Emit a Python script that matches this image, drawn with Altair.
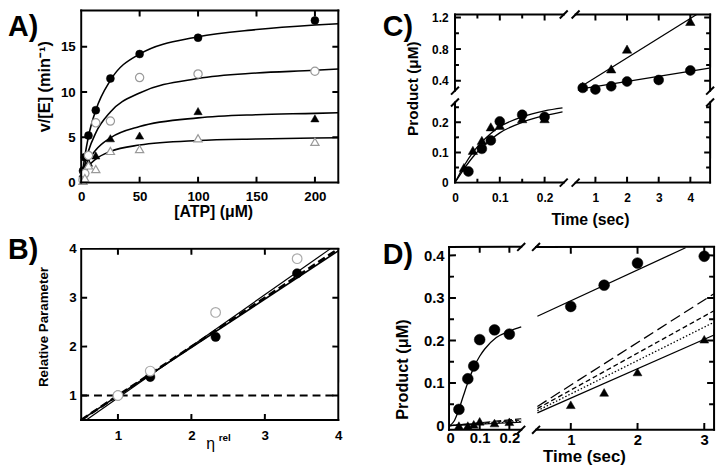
import altair as alt
import pandas as pd

# ---------------- Panel A : v/[E] vs [ATP] ----------------
atp = [1.56, 3.125, 6.25, 12.5, 25, 50, 100, 200]
a_filled_circles = [1.3, 2.8, 5.2, 8.0, 11.5, 14.2, 16.0, 17.9]
a_open_circles = [0.3, 1.0, 3.0, 6.6, 6.8, 11.6, 12.0, 12.3]
a_filled_triangles = [1.0, 1.4, 2.2, 3.0, 4.9, 5.2, 7.9, 7.1]
a_open_triangles = [0.2, 0.5, 1.9, 1.5, 3.5, 3.7, 4.9, 4.5]
a_fit_x = [0, 3, 6.25, 12.5, 25, 50, 100, 150, 200, 220]
a_fit_1 = [0, 2.8, 5.1, 8.0, 11.3, 14.2, 16.1, 16.9, 17.4, 17.55]
a_fit_2 = [0, 1.9, 3.5, 5.5, 7.8, 9.9, 11.5, 12.1, 12.4, 12.55]
a_fit_3 = [0, 1.3, 2.4, 3.6, 4.95, 6.2, 7.15, 7.5, 7.65, 7.72]
a_fit_4 = [0, 1.0, 1.8, 2.6, 3.45, 4.15, 4.65, 4.82, 4.92, 4.95]

# ---------------- Panel B : relative parameter vs eta ----------------
eta = [1.0, 1.44, 2.33, 3.44]
b_filled = [1.0, 1.38, 2.2, 3.5]
b_open = [1.0, 1.5, 2.7, 3.8]
b_fit_open_x = [0.57, 3.89]
b_fit_open_y = [0.5, 4.0]
b_fit_filled_x = [0.5, 4.0]
b_fit_filled_y = [0.5, 3.96]
b_unity_x = [0.5, 4.0]
b_unity_y = [0.5, 4.0]
b_ref_x = [0.5, 4.0]
b_ref_y = [1.0, 1.0]

# ---------------- Panel C : product vs time (broken axes) ----------------
c_t_circ = [0.03, 0.06, 0.08, 0.1, 0.15, 0.2]
c_v_circ = [0.037, 0.112, 0.14, 0.203, 0.225, 0.218]
c_t_tri = [0.02, 0.04, 0.06, 0.08, 0.1, 0.15, 0.2]
c_v_tri = [0.05, 0.107, 0.14, 0.185, 0.19, 0.212, 0.212]
c_fit_t = [0, 0.02, 0.04, 0.06, 0.08, 0.1, 0.15, 0.2, 0.24]
c_fit_tri = [0, 0.055, 0.1, 0.135, 0.163, 0.185, 0.218, 0.238, 0.248]
c_fit_circ = [0, 0.045, 0.085, 0.117, 0.143, 0.165, 0.2, 0.222, 0.235]
c_slow_t_circ = [0.6, 1.0, 1.5, 2.0, 3.0, 4.0]
c_slow_v_circ = [0.31, 0.29, 0.33, 0.39, 0.41, 0.53]
c_slow_t_tri = [0.6, 1.5, 2.0, 4.0]
c_slow_v_tri = [0.33, 0.55, 0.80, 1.15]
c_line_circ_t = [0.6, 4.6]
c_line_circ_v = [0.30, 0.56]
c_line_tri_t = [0.6, 4.2]
c_line_tri_v = [0.34, 1.2375]

# ---------------- Panel D : product vs time (broken x axis) ----------------
d_t_circ = [0.03, 0.06, 0.08, 0.1, 0.15, 0.2]
d_v_circ = [0.038, 0.11, 0.14, 0.202, 0.225, 0.215]
d_t_tri = [0.03, 0.06, 0.08, 0.1, 0.15, 0.2]
d_v_tri = [0.0, 0.0, 0.003, 0.01, 0.006, 0.009]
d_fit_t = [0, 0.015, 0.028, 0.045, 0.061, 0.081, 0.1, 0.117, 0.156, 0.2, 0.24]
d_fit_v = [0, 0.012, 0.034, 0.07, 0.103, 0.138, 0.163, 0.18, 0.207, 0.222, 0.232]
d_zero_t = [0, 0.24]
d_zero_solid = [0, 0.008]
d_zero_dotted = [0, 0.010]
d_zero_short = [0, 0.013]
d_zero_long = [0, 0.016]
d_slow_t = [1.0, 1.5, 2.0, 3.0]
d_slow_circ = [0.28, 0.33, 0.382, 0.398]
d_slow_tri = [0.049, 0.078, 0.126, 0.203]
d_line_circ_t = [0.5, 2.72]
d_line_circ_v = [0.257, 0.418]
d_line_t = [0.5, 3.147]
d_line_solid = [0.030, 0.213]
d_line_dotted = [0.035, 0.243]
d_line_short = [0.040, 0.270]
d_line_long = [0.045, 0.310]

# ---------------- layout (pixels inside the drawing area) ----------------
W, H = 719, 460
FONT = "Liberation Sans"

A_X, A_Y = (74, 334), (174, 0)
B_X, B_Y = (74, 334), (414, 241)
CL_X, CR_X = (452, 562), (574, 710)
CT_Y, CB_Y = (81, 4), (174, 93)
DL_X, DR_X = (446, 519), (534, 714)
D_Y = (424, 239)

A_XD, A_YD = [0, 220], [0, 19]
B_XD, B_YD = [0.5, 4], [0.5, 4]
CL_XD, CR_XD = [0, 0.2428], [0.375, 4.625]
CT_YD, CB_YD = [0.275, 1.2375], [0, 0.2656]
DL_XD, DR_XD = [-0.0033, 0.24], [0.48, 3.147]
D_YD = [-0.01, 0.42]


def sc(dom, rng):
    return alt.Scale(domain=dom, range=list(rng), nice=False, zero=False)


def enc(xs, ys):
    return dict(x=alt.X("x:Q", scale=xs, axis=None),
                y=alt.Y("y:Q", scale=ys, axis=None))


def pts(xv, yv, xs, ys, shape, size, filled=True, stroke="#9a9a9a"):
    df = pd.DataFrame({"x": xv, "y": yv})
    if filled:
        m = alt.Chart(df).mark_point(shape=shape, size=size, filled=True, fill="black",
                                     stroke="black", strokeWidth=0.5, opacity=1)
    else:
        m = alt.Chart(df).mark_point(shape=shape, size=size, filled=True, fill="white",
                                     stroke=stroke, strokeWidth=1.2, opacity=1)
    return m.encode(**enc(xs, ys))


def line(xv, yv, xs, ys, width=1.5, dash=None, interp="monotone"):
    df = pd.DataFrame({"x": xv, "y": yv})
    kw = dict(color="black", strokeWidth=width, interpolate=interp)
    if dash:
        kw["strokeDash"] = dash
    return alt.Chart(df).mark_line(**kw).encode(**enc(xs, ys))


def x_host(xs, dom, axis):
    return alt.Chart(pd.DataFrame({"v": dom})).mark_point(opacity=0, size=1).encode(
        x=alt.X("v:Q", scale=xs, axis=axis))


def y_host(ys, dom, axis):
    return alt.Chart(pd.DataFrame({"v": dom})).mark_point(opacity=0, size=1).encode(
        y=alt.Y("v:Q", scale=ys, axis=axis))


def label_axis(side, pos, values, fs, pad):
    if side == "bottom":
        orient, off = "bottom", pos - H
    else:
        orient, off = "left", -pos
    return alt.Axis(orient=orient, offset=off, values=values, ticks=False, tickSize=0,
                    domain=False, grid=False, title=None, labelFont=FONT, labelFontSize=fs,
                    labelFontWeight="bold", labelColor="black", labelPadding=pad,
                    labelFlush=False, labelOverlap=False, format=".2~f")


def segs(rows, xs, ys):
    """Frame edges and inward ticks: straight dashed-pattern strokes through the scales."""
    df = pd.DataFrame(rows, columns=["id", "o", "x", "y"])
    return alt.Chart(df).mark_line(color="black", strokeWidth=2, strokeDash=[400, 0.01]).encode(
        **enc(xs, ys), detail="id:N", order="o:Q")


frame_layers = []


def frame(xs, ys, xdom, ydom, xr, yr, sides, labels):
    out = []
    ux = (xdom[1] - xdom[0]) / (xr[1] - xr[0])   # data units per pixel, x
    uy = (ydom[1] - ydom[0]) / (yr[0] - yr[1])   # data units per pixel, y
    rows = []
    k = 0
    for side, (maj, mnr, lM, lm) in sides.items():
        if side in ("bottom", "top"):
            y0 = ydom[0] if side == "bottom" else ydom[1]
            sgn = 1 if side == "bottom" else -1
            rows += [(k, 0, xdom[0] - ux, y0), (k, 1, xdom[1] + ux, y0 + 0.05 * uy)]
            k += 1
            for vals, L in ((maj, lM), (mnr, lm)):
                for v in vals:
                    rows += [(k, 0, v, y0), (k, 1, v + 0.05 * ux, y0 + sgn * L * uy)]
                    k += 1
        else:
            x0 = xdom[0] if side == "left" else xdom[1]
            sgn = 1 if side == "left" else -1
            rows += [(k, 0, x0, ydom[0] - uy), (k, 1, x0 + 0.05 * ux, ydom[1] + uy)]
            k += 1
            for vals, L in ((maj, lM), (mnr, lm)):
                for v in vals:
                    rows += [(k, 0, x0, v), (k, 1, x0 + sgn * L * ux, v + 0.05 * uy)]
                    k += 1
    frame_layers.append(segs(rows, xs, ys))
    for side, (vals, fs, pad) in labels.items():
        if side == "bottom":
            out.append(x_host(xs, xdom, label_axis("bottom", yr[0], vals, fs, pad)))
        else:
            out.append(y_host(ys, ydom, label_axis("left", xr[0], vals, fs, pad)))
    return out


def text(s, x, y, fs, angle=0, weight="bold", align="left", font=FONT):
    return alt.Chart(pd.DataFrame({"t": [s]})).mark_text(
        fontSize=fs, font=font, fontWeight=weight, align=align, baseline="alphabetic",
        angle=angle, color="black").encode(text="t:N", x=alt.value(x), y=alt.value(y))


def brk(cx, cy, d=4):
    return alt.Chart(pd.DataFrame({"a": [0]})).mark_rule(color="black", strokeWidth=2).encode(
        x=alt.value(cx - d), x2=alt.value(cx + d), y=alt.value(cy + d), y2=alt.value(cy - d))


layers = []

# ---------- Panel A ----------
ax, ay = sc(A_XD, A_X), sc(A_YD, A_Y)
for fit in (a_fit_1, a_fit_2, a_fit_3, a_fit_4):
    layers.append(line(a_fit_x, fit, ax, ay, 1.6))
layers.append(pts(atp, a_filled_circles, ax, ay, "circle", 65))
layers.append(pts(atp, a_filled_triangles, ax, ay, "triangle-up", 70))
layers.append(pts(atp, a_open_circles, ax, ay, "circle", 70, filled=False))
layers.append(pts(atp, a_open_triangles, ax, ay, "triangle-up", 70, filled=False))
layers += frame(ax, ay, A_XD, A_YD, A_X, A_Y,
                {"bottom": ([50, 100, 150, 200], [], 6, 0),
                 "top": ([50, 100, 150, 200], [], 6, 0),
                 "left": ([5, 10, 15], [], 6, 0),
                 "right": ([5, 10, 15], [], 6, 0)},
                {"bottom": ([0, 50, 100, 150, 200], 13.5, 7),
                 "left": ([0, 5, 10, 15], 13.5, 6)})

# ---------- Panel B ----------
bx, by = sc(B_XD, B_X), sc(B_YD, B_Y)
layers.append(line(b_ref_x, b_ref_y, bx, by, 2, dash=[8, 5], interp="linear"))
layers.append(line(b_unity_x, b_unity_y, bx, by, 2.6, dash=[8, 4], interp="linear"))
layers.append(line(b_fit_filled_x, b_fit_filled_y, bx, by, 1.6, interp="linear"))
layers.append(line(b_fit_open_x, b_fit_open_y, bx, by, 1.2, interp="linear"))
layers.append(pts(eta, b_filled, bx, by, "circle", 90))
layers.append(pts(eta, b_open, bx, by, "circle", 95, filled=False, stroke="#aaaaaa"))
layers += frame(bx, by, B_XD, B_YD, B_X, B_Y,
                {"bottom": ([1, 2, 3], [], 6, 0), "top": ([1, 2, 3], [], 6, 0),
                 "left": ([1, 2, 3], [], 6, 0), "right": ([1, 2, 3], [], 6, 0)},
                {"bottom": ([1, 2, 3, 4], 13.5, 9), "left": ([1, 2, 3, 4], 13.5, 5)})

# ---------- Panel C ----------
clx, crx = sc(CL_XD, CL_X), sc(CR_XD, CR_X)
cty, cby = sc(CT_YD, CT_Y), sc(CB_YD, CB_Y)
layers.append(line(c_fit_t, c_fit_tri, clx, cby, 1.3))
layers.append(line(c_fit_t, c_fit_circ, clx, cby, 1.3))
layers.append(pts(c_t_tri, c_v_tri, clx, cby, "triangle-up", 90))
layers.append(pts(c_t_circ, c_v_circ, clx, cby, "circle", 100))
layers.append(line(c_line_tri_t, c_line_tri_v, crx, cty, 1.3, interp="linear"))
layers.append(line(c_line_circ_t, c_line_circ_v, crx, cty, 1.3, interp="linear"))
layers.append(pts(c_slow_t_tri, c_slow_v_tri, crx, cty, "triangle-up", 90))
layers.append(pts(c_slow_t_circ, c_slow_v_circ, crx, cty, "circle", 100))
layers += frame(clx, cty, CL_XD, CT_YD, CL_X, CT_Y,
                {"top": ([0.1, 0.2], [0.05, 0.15], 6, 4),
                 "left": ([0.4, 0.8, 1.2], [0.6, 1.0], 6, 4)},
                {"left": ([0.4, 0.8, 1.2], 12, 7)})
layers += frame(clx, cby, CL_XD, CB_YD, CL_X, CB_Y,
                {"bottom": ([0.1, 0.2], [0.05, 0.15], 6, 4),
                 "left": ([0.1, 0.2], [0.05, 0.15, 0.25], 6, 4)},
                {"bottom": ([0, 0.1, 0.2], 12, 10), "left": ([0, 0.1, 0.2], 12, 7)})
layers += frame(crx, cty, CR_XD, CT_YD, CR_X, CT_Y,
                {"top": ([1, 2, 3, 4], [], 6, 0),
                 "right": ([0.4, 0.8, 1.2], [0.6, 1.0], 6, 4)}, {})
layers += frame(crx, cby, CR_XD, CB_YD, CR_X, CB_Y,
                {"bottom": ([1, 2, 3, 4], [], 6, 0),
                 "right": ([0.1, 0.2], [0.05, 0.15, 0.25], 6, 4)},
                {"bottom": ([1, 2, 3, 4], 12, 10)})
for cx, cy in [(CL_X[1], CT_Y[1]), (CR_X[0], CT_Y[1]), (CL_X[1], CB_Y[0]), (CR_X[0], CB_Y[0]),
               (CL_X[0], CT_Y[0]), (CL_X[0], CB_Y[1]), (CR_X[1], CT_Y[0]), (CR_X[1], CB_Y[1])]:
    layers.append(brk(cx, cy))

# ---------- Panel D ----------
dlx, drx, dy = sc(DL_XD, DL_X), sc(DR_XD, DR_X), sc(D_YD, D_Y)
layers.append(line(d_zero_t, d_zero_long, dlx, dy, 1.2, dash=[8, 3], interp="linear"))
layers.append(line(d_zero_t, d_zero_short, dlx, dy, 1.2, dash=[4, 2], interp="linear"))
layers.append(line(d_zero_t, d_zero_dotted, dlx, dy, 1.2, dash=[1.5, 2], interp="linear"))
layers.append(line(d_zero_t, d_zero_solid, dlx, dy, 1.2, interp="linear"))
layers.append(line(d_fit_t, d_fit_v, dlx, dy, 1.3))
layers.append(pts(d_t_tri, d_v_tri, dlx, dy, "triangle-up", 80))
layers.append(pts(d_t_circ, d_v_circ, dlx, dy, "circle", 120))
layers.append(line(d_line_circ_t, d_line_circ_v, drx, dy, 1.3, interp="linear"))
layers.append(line(d_line_t, d_line_long, drx, dy, 1.3, dash=[11, 5], interp="linear"))
layers.append(line(d_line_t, d_line_short, drx, dy, 1.3, dash=[5, 3], interp="linear"))
layers.append(line(d_line_t, d_line_dotted, drx, dy, 1.3, dash=[1.5, 2], interp="linear"))
layers.append(line(d_line_t, d_line_solid, drx, dy, 1.3, interp="linear"))
layers.append(pts(d_slow_t, d_slow_tri, drx, dy, "triangle-up", 80))
layers.append(pts(d_slow_t, d_slow_circ, drx, dy, "circle", 120))
layers += frame(dlx, dy, DL_XD, D_YD, DL_X, D_Y,
                {"bottom": ([0.1, 0.2], [], 6, 0), "top": ([0.1, 0.2], [], 6, 0),
                 "left": ([0.1, 0.2, 0.3, 0.4], [0.05, 0.15, 0.25, 0.35], 7, 5)},
                {"bottom": ([0, 0.1, 0.2], 15, 1), "left": ([0, 0.1, 0.2, 0.3, 0.4], 15, 5)})
layers += frame(drx, dy, DR_XD, D_YD, DR_X, D_Y,
                {"bottom": ([1, 2, 3], [], 7, 0), "top": ([1, 2, 3], [], 7, 0),
                 "right": ([0.1, 0.2, 0.3, 0.4], [0.05, 0.15, 0.25, 0.35], 7, 5)},
                {"bottom": ([1, 2, 3], 15, 3)})
for cx, cy in [(DL_X[1], D_Y[1]), (DR_X[0], D_Y[1]), (DL_X[1], D_Y[0]), (DR_X[0], D_Y[0])]:
    layers.append(brk(cx, cy))

# ---------- texts ----------
layers += [
    text("A)", 0, 26, 29), text("B)", 0, 251, 29), text("C)", 379, 26, 29), text("D)", 379, 256, 29),
    text("v/[E] (min⁻¹)", 42, 77, 16.5, angle=270, align="center"),
    text("[ATP] (μM)", 208, 209, 16, align="center"),
    text("Relative Parameter", 40, 320, 13.5, angle=270, align="center"),
    text("η", 205, 443, 16, weight="normal", align="center"),
    text("rel", 213, 435, 10),
    text("Product (μM)", 415, 79, 15.5, angle=270, align="center"),
    text("Time (sec)", 589, 217, 16, align="center"),
    text("Product (μM)", 404, 363, 16.5, angle=270, align="center"),
    text("Time (sec)", 583, 457, 17, align="center"),
]

# frames and ticks drawn last, on top of everything
layers += frame_layers

chart = alt.layer(*layers).resolve_scale(x="independent", y="independent").properties(
    width=W, height=H, padding=0, autosize=alt.AutoSizeParams(type="none")
).configure_view(stroke="transparent")

chart.save("out.html", embed_options={"renderer": "svg", "actions": False})
